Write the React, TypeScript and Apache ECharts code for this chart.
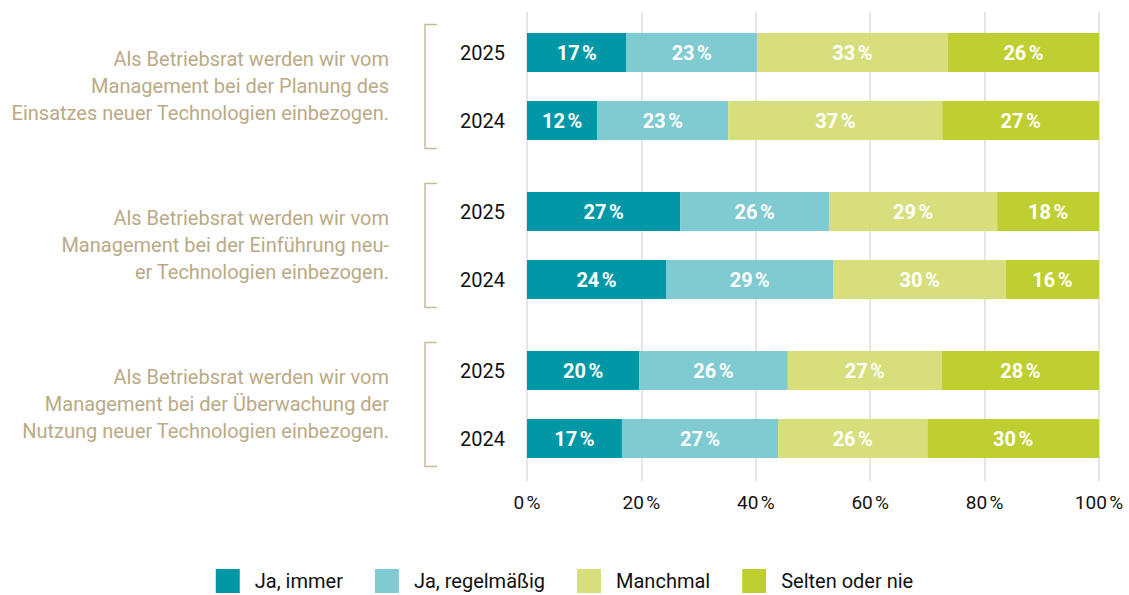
import React, { useEffect, useRef } from "react";
import * as echarts from "echarts";

const seriesNames = ["Ja, immer", "Ja, regelmäßig", "Manchmal", "Selten oder nie"];
const seriesColors = ["#0098A6", "#80CAD2", "#D6DF7C", "#BFCE30"];

const yearLabels = ["2025", "2024"];

// rows: [Planung 2025, Planung 2024, Einführung 2025, Einführung 2024, Überwachung 2025, Überwachung 2024]
const jaImmer = [17.4, 12.3, 26.8, 24.3, 19.6, 16.6];
const jaRegelmaessig = [22.8, 22.9, 26.0, 29.3, 26.0, 27.3];
const manchmal = [33.4, 37.4, 29.4, 30.1, 26.9, 26.1];
const seltenOderNie = [26.4, 27.4, 17.8, 16.3, 27.5, 30.0];
const seriesValues = [jaImmer, jaRegelmaessig, manchmal, seltenOderNie];

const questions = [
  "Als Betriebsrat werden wir vom\nManagement bei der Planung des\nEinsatzes neuer Technologien einbezogen.",
  "Als Betriebsrat werden wir vom\nManagement bei der Einführung neu-\ner Technologien einbezogen.",
  "Als Betriebsrat werden wir vom\nManagement bei der Überwachung der\nNutzung neuer Technologien einbezogen.",
];

const xTicks = [0, 20, 40, 60, 80, 100];

const FONT = "Roboto, 'Noto Sans', sans-serif";
const TAN = "#BAAA86";

export default function App() {
  const ref = useRef<HTMLDivElement>(null);

  useEffect(() => {
    document.body.style.margin = "0";
    if (!ref.current) return;
    const chart = echarts.init(ref.current, null, { renderer: "svg" });

    const gridLeft = 527;
    const gridWidth = 572;
    const rowStep = 68;
    const groupCenters = [86.5, 245.5, 404.5];

    const graphics: any[] = [];
    groupCenters.forEach((c, g) => {
      graphics.push({
        type: "text",
        x: 389,
        y: c - 41,
        style: {
          text: questions[g],
          fill: TAN,
          fontSize: 20,
          fontFamily: FONT,
          textAlign: "right",
          textVerticalAlign: "top",
          lineHeight: 27,
        },
      });
      graphics.push({
        type: "polyline",
        shape: {
          points: [
            [437, c - 62],
            [425, c - 62],
            [425, c + 62],
            [437, c + 62],
          ],
        },
        style: { stroke: "#C7BA9C", lineWidth: 1.5, fill: null },
      });
    });

    const grids: any[] = [{ left: gridLeft, width: gridWidth, top: 12, height: 469 }];
    const xAxes: any[] = [
      {
        gridIndex: 0,
        type: "value",
        min: 0,
        max: 100,
        interval: 20,
        axisLine: { show: false },
        axisTick: { show: false },
        splitLine: { show: true, lineStyle: { color: "#DDDDDD", width: 1.5 } },
        axisLabel: {
          color: "#111111",
          fontSize: 19,
          fontFamily: FONT,
          margin: 12,
          formatter: (v: number) => (xTicks.includes(v) ? v + "\u202F%" : ""),
        },
      },
    ];
    const yAxes: any[] = [{ gridIndex: 0, type: "value", min: 0, max: 1, show: false }];
    const series: any[] = [];

    groupCenters.forEach((c, g) => {
      const gi = g + 1;
      grids.push({ left: gridLeft, width: gridWidth, top: c - rowStep, height: rowStep * 2 });
      xAxes.push({ gridIndex: gi, type: "value", min: 0, max: 100, show: false });
      yAxes.push({
        gridIndex: gi,
        type: "category",
        inverse: true,
        data: yearLabels,
        axisLine: { show: false },
        axisTick: { show: false },
        splitLine: { show: false },
        axisLabel: {
          interval: 0,
          color: "#111111",
          fontSize: 20,
          fontFamily: FONT,
          margin: 22,
        },
      });
      seriesNames.forEach((name, i) => {
        series.push({
          name,
          type: "bar",
          xAxisIndex: gi,
          yAxisIndex: gi,
          stack: "group" + g,
          barWidth: 39,
          itemStyle: { color: seriesColors[i] },
          label: {
            show: true,
            position: "inside",
            color: "#ffffff",
            fontSize: 20,
            fontWeight: "bold",
            fontFamily: FONT,
            formatter: (p: any) => Math.round(p.value) + "\u202F%",
          },
          data: seriesValues[i].slice(g * 2, g * 2 + 2),
        });
      });
    });

    chart.setOption({
      animation: false,
      textStyle: { fontFamily: FONT },
      grid: grids,
      xAxis: xAxes,
      yAxis: yAxes,
      legend: {
        left: "center",
        top: 564,
        icon: "rect",
        itemWidth: 24,
        itemHeight: 24,
        itemGap: 32,
        textStyle: { color: "#111111", fontSize: 20, fontFamily: FONT, padding: [0, 0, 0, 10] },
        data: seriesNames,
      },
      series,
      graphic: graphics,
    });

    return () => chart.dispose();
  }, []);

  return <div ref={ref} style={{ width: 1129, height: 595 }} />;
}
